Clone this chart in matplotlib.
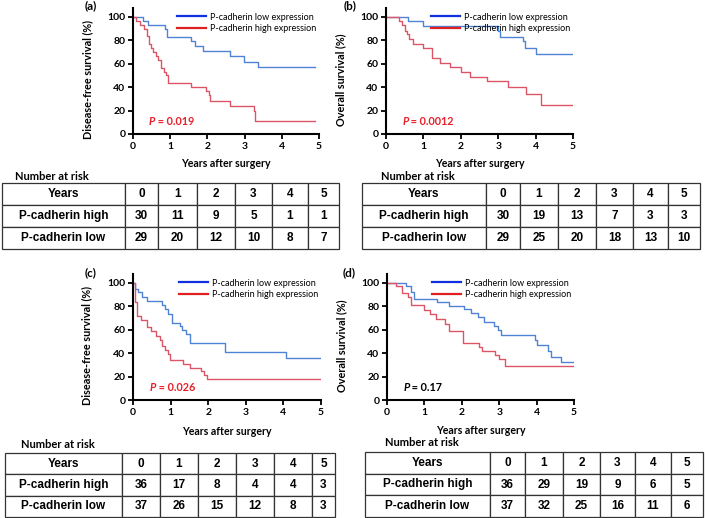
import matplotlib
matplotlib.use("Agg")
import matplotlib.pyplot as plt
from matplotlib.lines import Line2D

W, H = 705, 518

# ---- survival curves (years, % surviving) ----
a_low_t = [0, 0.27, 0.40, 0.87, 0.92, 1.55, 1.66, 1.88, 2.62, 2.99, 3.35, 4.90]
a_low_s = [100, 96.6, 93.1, 89.7, 82.8, 79.3, 75.0, 70.6, 66.2, 61.8, 57.4, 57.4]
a_high_t = [0, 0.08, 0.20, 0.30, 0.37, 0.42, 0.48, 0.55, 0.62, 0.68, 0.75, 0.82, 0.88, 0.93,
            1.57, 1.97, 2.03, 2.08, 2.62, 3.25, 3.28, 4.90]
a_high_s = [100, 96.7, 93.3, 90.0, 83.3, 76.7, 73.3, 70.0, 66.7, 63.3, 56.7, 53.3, 50.0, 43.3,
            40.0, 36.7, 33.0, 28.3, 24.0, 20.0, 11.3, 11.3]

b_low_t = [0, 0.60, 1.00, 3.00, 3.05, 3.65, 3.72, 4.00, 5.00]
b_low_s = [100, 96.0, 92.0, 88.0, 83.0, 79.0, 73.0, 68.0, 68.0]
b_high_t = [0, 0.35, 0.42, 0.50, 0.56, 0.62, 0.72, 1.00, 1.22, 1.45, 1.70, 2.00, 2.25, 2.70,
            3.25, 3.75, 4.15, 5.00]
b_high_s = [100, 96.7, 93.3, 88.0, 85.0, 81.0, 77.0, 73.0, 65.0, 61.0, 57.0, 53.0, 49.0, 45.0,
            40.0, 34.0, 25.0, 25.0]

c_low_t = [0, 0.05, 0.14, 0.24, 0.36, 0.76, 0.85, 0.94, 1.03, 1.25, 1.31, 1.40, 1.52, 2.45,
           4.07, 5.00]
c_low_s = [100, 94.6, 91.9, 87.5, 84.7, 81.0, 78.0, 73.0, 66.0, 63.0, 60.0, 56.0, 48.5, 41.3,
           36.0, 36.0]
c_high_t = [0, 0.04, 0.11, 0.22, 0.36, 0.49, 0.62, 0.71, 0.77, 0.85, 0.93, 0.99, 1.33, 1.51,
            1.82, 1.90, 1.96, 5.00]
c_high_s = [100, 84.0, 72.0, 68.0, 62.0, 59.0, 55.0, 51.0, 46.0, 43.0, 39.0, 34.0, 31.0, 27.7,
            24.5, 21.0, 18.0, 18.0]

d_low_t = [0, 0.50, 0.65, 0.72, 1.33, 1.65, 2.05, 2.25, 2.42, 2.60, 2.87, 2.97, 3.05, 3.97,
           4.02, 4.30, 4.38, 4.65, 5.00]
d_low_s = [100, 97.3, 91.9, 86.5, 83.8, 80.6, 77.4, 74.2, 70.5, 66.8, 63.1, 59.4, 55.7, 51.0,
           46.5, 42.0, 37.0, 32.5, 32.5]
d_high_t = [0, 0.25, 0.40, 0.55, 0.65, 1.00, 1.15, 1.30, 1.55, 1.65, 2.03, 2.45, 2.55, 2.90,
            3.00, 3.15, 5.00]
d_high_s = [100, 97.2, 91.7, 88.0, 81.0, 77.0, 73.0, 69.0, 65.0, 58.5, 49.0, 45.0, 42.0, 38.0,
            35.0, 29.0, 29.0]

p_values = ["0.019", "0.0012", "0.026", "0.17"]
p_colors = ["#e8202a", "#e8202a", "#e8202a", "black"]
ylabels = ["Disease-free survival (%)", "Overall survival (%)",
           "Disease-free survival (%)", "Overall survival (%)"]
panel_tags = ["(a)", "(b)", "(c)", "(d)"]

# ---- number-at-risk tables ----
years = ["0", "1", "2", "3", "4", "5"]
a_risk_high = [30, 11, 9, 5, 1, 1]
a_risk_low = [29, 20, 12, 10, 8, 7]
b_risk_high = [30, 19, 13, 7, 3, 3]
b_risk_low = [29, 25, 20, 18, 13, 10]
c_risk_high = [36, 17, 8, 4, 4, 3]
c_risk_low = [37, 26, 15, 12, 8, 3]
d_risk_high = [36, 29, 19, 9, 6, 5]
d_risk_low = [37, 32, 25, 16, 11, 6]

low_line = "#4f83d6"
high_line = "#dc5566"
ui_font = ["Lato", "DejaVu Sans"]
tab_font = ["Liberation Sans", "DejaVu Sans"]

fig = plt.figure(figsize=(W / 100, H / 100), dpi=100)


def px_axes(l, t, r, b):
    return fig.add_axes([l / W, 1 - b / H, (r - l) / W, (b - t) / H])


def km_panel(box, lt, ls, ht, hs, pval, pcol, ylab, xlab_y):
    ax = px_axes(*box)
    ax.step(lt, ls, where="post", color=low_line, lw=1.0)
    ax.step(ht, hs, where="post", color=high_line, lw=1.0)
    ax.set_xlim(0, 5)
    ax.set_ylim(0, 107.5)
    ax.set_xticks(range(6))
    ax.set_yticks(range(0, 101, 20))
    for s in ["top", "right"]:
        ax.spines[s].set_visible(False)
    for s in ["left", "bottom"]:
        ax.spines[s].set_linewidth(1.5)
    ax.tick_params(length=3.5, width=1.3, labelsize=7.5, pad=2)
    for lab in ax.get_xticklabels() + ax.get_yticklabels():
        lab.set_fontweight("bold")
        lab.set_family(ui_font)
    ax.set_xlabel("Years after surgery", fontsize=7.6, fontweight="bold",
                  family=ui_font)
    ax.xaxis.set_label_coords(0.5, xlab_y)
    ax.set_ylabel(ylab, fontsize=7.8, fontweight="bold", family=ui_font)
    ax.yaxis.set_label_coords(-0.215, 0.43)
    handles = [Line2D([], [], color="#1030e0", lw=1.6),
               Line2D([], [], color="#e02020", lw=1.6)]
    ax.legend(handles, ["P-cadherin low expression", "P-cadherin high expression"],
              loc="upper right", bbox_to_anchor=(1.01, 1.0), frameon=False,
              prop={"family": ui_font, "size": 6.5}, handlelength=3.2,
              handletextpad=0.5, labelspacing=0.25, borderpad=0)
    t = ax.text(0.43, 11, "P", color=pcol, fontsize=7.8, fontweight="bold",
                style="italic", family=ui_font, va="center")
    ax.annotate(" = " + pval, xy=(1, 0), xycoords=t, va="bottom", color=pcol,
                fontsize=7.8, fontweight="bold", family=ui_font)
    return ax


def risk_table(box, high, low, widths, lab_x, lab_y):
    ax = px_axes(*box)
    ax.axis("off")
    cells = [["Years"] + years,
             ["P-cadherin high"] + [str(v) for v in high],
             ["P-cadherin low"] + [str(v) for v in low]]
    tot = sum(widths)
    tb = ax.table(cellText=cells, colWidths=[w / tot for w in widths],
                  cellLoc="center", bbox=[0, 0, 1, 1])
    tb.auto_set_font_size(False)
    for cell in tb.get_celld().values():
        cell.set_linewidth(0.9)
        cell.set_edgecolor("#333333")
        cell.get_text().set_fontsize(8.5)
        cell.get_text().set_fontweight("bold")
        cell.get_text().set_family(tab_font)
    fig.text(lab_x / W, 1 - lab_y / H, "Number at risk", fontsize=8, fontweight="bold",
             family=ui_font, va="center", ha="left")


boxes = [(133, 8, 319, 134), (386, 8, 573, 134), (133, 274, 321, 400), (387, 274, 574, 400)]
curves = [(a_low_t, a_low_s, a_high_t, a_high_s), (b_low_t, b_low_s, b_high_t, b_high_s),
          (c_low_t, c_low_s, c_high_t, c_high_s), (d_low_t, d_low_s, d_high_t, d_high_s)]
xlab_pos = [-0.19, -0.19, -0.205, -0.195]
tag_pos = [(91, 6), (350, 6), (91, 273), (349, 273)]
for i in range(4):
    km_panel(boxes[i], *curves[i], p_values[i], p_colors[i], ylabels[i], xlab_pos[i])
    fig.text(tag_pos[i][0] / W, 1 - tag_pos[i][1] / H, panel_tags[i], fontsize=8.5,
             fontweight="bold", family=ui_font, ha="center", va="center")

risk_table((2, 183, 339, 249), a_risk_high, a_risk_low, [123, 33, 39, 38, 37, 36, 31], 15, 176)
risk_table((362, 183, 700, 249), b_risk_high, b_risk_low, [124, 34, 38, 38, 37, 35, 32], 381, 176)
risk_table((5, 453, 335, 517), c_risk_high, c_risk_low, [117, 38, 38, 38, 38, 38, 23], 21, 444)
risk_table((365, 452, 703, 517), d_risk_high, d_risk_low, [125, 35, 38, 37, 35, 36, 32], 385, 443)

fig.savefig("out.png", dpi=100)
